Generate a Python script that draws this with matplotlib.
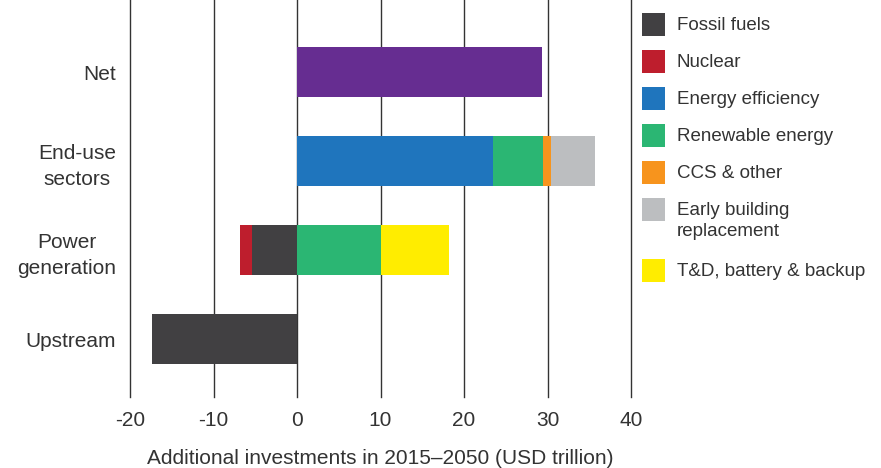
import matplotlib.pyplot as plt
import matplotlib.patches as mpatches
import numpy as np

# categories, bottom to top
categories = ["Upstream", "Power\ngeneration", "End-use\nsectors", "Net"]

# segments per category (USD trillion), stacked outward from zero
fossil = [-17.4, -5.4, 0.0, 0.0]
nuclear = [0.0, -1.4, 0.0, 0.0]
efficiency = [0.0, 0.0, 23.5, 0.0]
renewable = [0.0, 10.0, 6.0, 0.0]
ccs = [0.0, 0.0, 0.9, 0.0]
early_bldg = [0.0, 0.0, 5.3, 0.0]
td_battery = [0.0, 8.2, 0.0, 0.0]
net = [0.0, 0.0, 0.0, 29.3]

legend_labels = ["Fossil fuels", "Nuclear", "Energy efficiency", "Renewable energy",
                 "CCS & other", "Early building\nreplacement", "T&D, battery & backup"]
colors = {
    "fossil": "#414042",
    "nuclear": "#BE1E2D",
    "efficiency": "#1F75BD",
    "renewable": "#2BB673",
    "ccs": "#F7941D",
    "early": "#BCBEC0",
    "td": "#FFED00",
    "net": "#662D91",
}

plt.rcParams['font.family'] = ['Liberation Sans', 'DejaVu Sans']
plt.rcParams['axes.unicode_minus'] = False
txt_color = "#333333"

fig = plt.figure(figsize=(8.81, 4.68), dpi=100)
ax = fig.add_axes([130 / 881, 71 / 468, 501 / 881, 397 / 468])

y = np.arange(len(categories))
h = 0.56

# negative side stacks to the left
neg_series = [(fossil, colors["fossil"]), (nuclear, colors["nuclear"])]
left = np.zeros(len(categories))
for vals, c in neg_series:
    vals = np.array(vals)
    ax.barh(y, vals, left=left, height=h, color=c, zorder=3)
    left = left + vals

pos_series = [(efficiency, colors["efficiency"]), (renewable, colors["renewable"]),
              (ccs, colors["ccs"]), (early_bldg, colors["early"]),
              (td_battery, colors["td"]), (net, colors["net"])]
left = np.zeros(len(categories))
for vals, c in pos_series:
    vals = np.array(vals)
    ax.barh(y, vals, left=left, height=h, color=c, zorder=3)
    left = left + vals

ax.set_xlim(-20, 40)
ax.set_ylim(-0.65, 3.81)
xt = np.arange(-20, 41, 10)
ax.set_xticks(xt)
for v in xt:
    ax.axvline(v, color="#333333", lw=1, zorder=1, clip_on=False)
ax.set_yticks(y)
ax.set_yticklabels(categories, multialignment="center", linespacing=1.45)
ax.tick_params(axis="both", length=0, labelsize=15, colors=txt_color)
ax.tick_params(axis="x", pad=10)
ax.tick_params(axis="y", pad=10)
for s in ax.spines.values():
    s.set_visible(False)
ax.set_xlabel("Additional investments in 2015–2050 (USD trillion)", fontsize=15,
              color=txt_color, labelpad=14)

# legend drawn by hand to keep the two-line entry aligned like the original
legend_colors = [colors["fossil"], colors["nuclear"], colors["efficiency"],
                 colors["renewable"], colors["ccs"], colors["early"], colors["td"]]
row_tops = [13, 50, 87, 124, 161, 198, 259]
for lab, c, top in zip(legend_labels, legend_colors, row_tops):
    fig.add_artist(mpatches.Rectangle((642 / 881, 1 - (top + 23) / 468), 23 / 881, 23 / 468,
                                      transform=fig.transFigure, color=c, lw=0))
    fig.text(677 / 881, 1 - (top + 4) / 468, lab, fontsize=13.5, color=txt_color,
             va="top", ha="left", linespacing=1.3)

fig.savefig("out.png", dpi=100)
